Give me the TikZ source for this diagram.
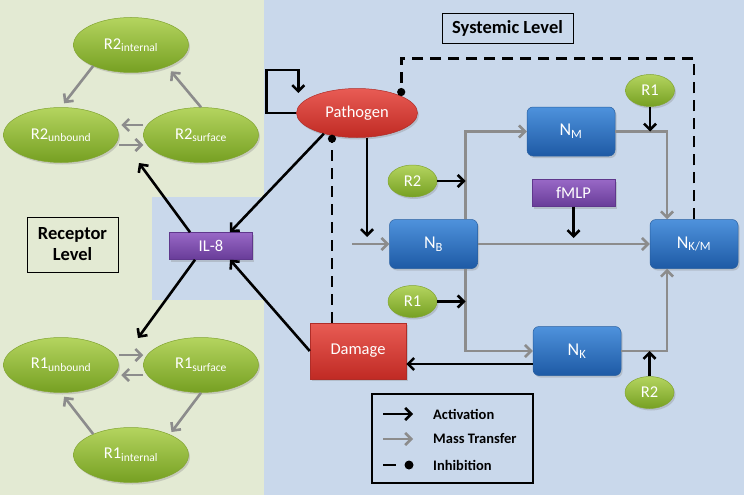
\documentclass[tikz,border=0pt]{standalone}
\usepackage{fontspec}
\setmainfont{Carlito}
\usepackage{tikz}
\usetikzlibrary{arrows.meta,shapes.geometric,shadows}

\definecolor{recbg}{RGB}{227,234,211}
\definecolor{sysbg}{RGB}{201,216,235}
\definecolor{grline}{RGB}{140,140,140}
\definecolor{grnT}{RGB}{180,212,95}
\definecolor{grnB}{RGB}{118,160,34}
\definecolor{grnD}{RGB}{130,165,50}
\definecolor{bluT}{RGB}{78,146,220}
\definecolor{bluB}{RGB}{30,90,165}
\definecolor{bluD}{RGB}{40,95,160}
\definecolor{redT}{RGB}{232,92,84}
\definecolor{redB}{RGB}{192,42,36}
\definecolor{redD}{RGB}{175,45,40}
\definecolor{purT}{RGB}{152,104,198}
\definecolor{purB}{RGB}{104,60,152}
\definecolor{purD}{RGB}{95,55,140}

\tikzset{
  base/.style={text=white, inner sep=0pt, font=\fontsize{16.5}{18}\selectfont,
    drop shadow={opacity=0.3, shadow xshift=1.5pt, shadow yshift=-2pt}},
  recep/.style={base, ellipse, draw=grnD, line width=0.5pt, top color=grnT, bottom color=grnB,
    minimum width=115pt, minimum height=55pt},
  tiny/.style={recep, minimum width=49pt, minimum height=32pt},
  cell/.style={base, rectangle, rounded corners=6pt, draw=bluD, line width=0.5pt,
    top color=bluT, bottom color=bluB, minimum width=88pt, minimum height=49pt,
    font=\fontsize{18}{20}\selectfont},
  harm/.style={base, draw=redD, line width=0.5pt, top color=redT, bottom color=redB},
  chem/.style={base, rectangle, draw=purD, line width=0.5pt, top color=purT, bottom color=purB,
    minimum width=83pt, minimum height=27pt},
  tag/.style={draw=black, line width=0.8pt, font=\bfseries\fontsize{18.5}{21}\selectfont, align=center},
  act/.style={line width=2.6pt, -{Straight Barb[length=6pt,width=12pt]}},
  mass/.style={act, draw=grline},
  inhib/.style={line width=2.8pt, dash pattern=on 11pt off 7pt, -{Circle[length=8pt]}},
  lgd/.style={font=\bfseries\fontsize{14.5}{16}\selectfont, anchor=west, inner sep=0pt}
}

\begin{document}
\begin{tikzpicture}[x=1pt, y=-1pt]
  %%%%% START %%%%%
  \useasboundingbox (0,0) rectangle (744,495);

  % panels
  \fill[recbg] (0,0) rectangle (264,495);
  \fill[sysbg] (264,0) rectangle (744,495);
  \fill[sysbg] (152,197) rectangle (264,300);

  % receptor level
  \node[recep] (r2i) at (131,45) {R2\textsubscript{internal}};
  \node[recep] (r2u) at (61,135) {R2\textsubscript{unbound}};
  \node[recep] (r2s) at (201,135) {R2\textsubscript{surface}};
  \node[recep] (r1u) at (61,365) {R1\textsubscript{unbound}};
  \node[recep] (r1s) at (201,365) {R1\textsubscript{surface}};
  \node[recep] (r1i) at (131,455) {R1\textsubscript{internal}};
  \node[chem] (il8) at (211,246) {IL-8};
  \node[tag, minimum width=91pt, minimum height=55pt] (rlev) at (72.5,244.5) {Receptor\\Level};
  \coordinate (r2tip) at (139,163);
  \coordinate (r1tip) at (138,338);

  % systemic level
  \node[tag, minimum width=131pt, minimum height=30pt] (slev) at (507.5,28) {Systemic Level};
  \node[harm, ellipse, minimum width=121pt, minimum height=49pt] (pat) at (357,113) {Pathogen};
  \node[harm, rectangle, minimum width=96pt, minimum height=56pt] (dmg) at (358,351) {Damage};
  \node[cell] (nb) at (433.5,244) {N\textsubscript{B}};
  \node[cell] (nm) at (571,131.5) {N\textsubscript{M}};
  \node[cell] (nkm) at (694,244) {N\textsubscript{K/M}};
  \node[cell] (nk) at (577,351) {N\textsubscript{K}};
  \node[chem] (fmlp) at (573.5,193) {fMLP};
  \node[tiny] (r2a) at (412.5,181) {R2};
  \node[tiny] (r1a) at (412.5,301.5) {R1};
  \node[tiny] (r1b) at (650,90.5) {R1};
  \node[tiny] (r2b) at (649.5,392.5) {R2};
  \coordinate (nbtap) at ([xshift=32pt]nb.center);
  \coordinate (nkmtap) at ([xshift=-27pt]nkm.center);

  % receptor cycles
  \draw[mass, shorten >=5pt] (r2i.209) -- (r2u.north);
  \draw[mass, shorten >=6pt] (r2s.north) -- (r2i.329);
  \draw[mass, shorten >=2.5pt] ([yshift=10pt]r2s.west) -- ([yshift=10pt]r2u.east);
  \draw[mass] ([yshift=-10pt]r2u.east) -- ([yshift=-10pt]r2s.west);
  \draw[mass] ([yshift=10pt]r1u.east) -- ([yshift=10pt]r1s.west);
  \draw[mass, shorten >=2.5pt] ([yshift=-10pt]r1s.west) -- ([yshift=-10pt]r1u.east);
  \draw[mass, shorten >=3pt] (r1s.south) -- (r1i.28);
  \draw[mass, shorten >=5pt] (r1i.151) -- (r1u.south);

  % IL-8 links
  \draw[act] ([xshift=-21pt]il8.north) -- (r2tip);
  \draw[act] ([xshift=-16pt]il8.south) -- (r1tip);
  \draw[act] (pat.212) -- ([xshift=19pt]il8.north);
  \draw[act] (dmg.west) -- ([xshift=19pt]il8.south);

  % mass transfer between neutrophil pools
  \draw[mass] ([xshift=-37pt]nb.west) -- (nb.west);
  \draw[mass] (nbtap |- nb.north) |- (nm.west);
  \draw[mass] (nbtap |- nb.south) |- (nk.west);
  \draw[mass] (nb.east) -- (nkm.west);
  \draw[mass] (nm.east) -| (nkmtap |- nkm.north);
  \draw[mass] (nk.east) -| (nkmtap |- nkm.south);

  % activation
  \draw[act] (pat.west) -- ++(-30,0) -- ++(0,-43) -- ++(32,0) -- ++(0,23);
  \draw[act, shorten >=7pt] ([xshift=10pt]pat.south) -- ([xshift=10pt]pat.south |- nb.west);
  \draw[act] (r2a.east) -- (r2a.east -| nbtap);
  \draw[act] (r1a.east) -- (r1a.east -| nbtap);
  \draw[act] (r1b.south) -- (r1b.south |- nm.east);
  \draw[act, shorten >=6pt] (fmlp.south) -- (fmlp.south |- nb.east);
  \draw[act] (r2b.north) -- (r2b.north |- nk.east);
  \draw[act] ([yshift=-13pt]nk.west) -- ([yshift=-13pt]nk.west -| dmg.east);

  % inhibition
  \draw[inhib] (nkm.north) -- ++(0,-161) -| (pat.21);
  \draw[inhib, shorten >=-3pt] ([xshift=-26pt]dmg.north) -- ([xshift=-26pt]dmg.north |- pat.south);

  % legend
  \node[draw, line width=1.2pt, minimum width=161pt, minimum height=89pt] (lgdbox) at (452.5,438.5) {};
  \node[lgd] (lact) at (433,414) {Activation};
  \node[lgd] (lmas) at (433,439) {Mass Transfer};
  \node[lgd] (linh) at (433,465) {Inhibition};
  \draw[act] ([xshift=-50pt]lact.west) -- ([xshift=-20pt]lact.west);
  \draw[mass] ([xshift=-50pt]lmas.west) -- ([xshift=-20pt]lmas.west);
  \draw[line width=2.8pt] ([xshift=-50pt]linh.west) -- ([xshift=-37pt]linh.west);
  \fill ([xshift=-24pt]linh.west) circle (4.5);

  %%%%% END %%%%%
\end{tikzpicture}
\end{document}
